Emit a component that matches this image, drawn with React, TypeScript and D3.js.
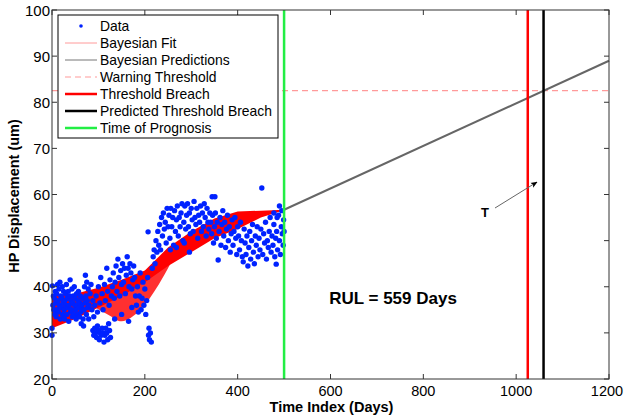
import React from 'react';
import * as d3 from 'd3';

// observed HP displacement, [day, um]
const observations: [number, number][] = [
  [0, 29.5], [0, 31], [1, 40.2], [2, 36], [3, 38], [4, 35], [5, 37.5], [6, 34], [7, 39], [8, 36.5], [9, 33.5], [10, 38.5],
  [11, 35], [12, 40.5], [13, 37], [14, 34.5], [15, 39.5], [16, 36], [17, 41], [18, 33], [19, 38], [20, 35.5], [21, 37.5],
  [22, 40], [23, 34], [24, 36.5], [25, 39], [26, 35], [27, 33], [28, 37], [29, 38.5], [30, 36],
  [31, 40.5], [32, 34], [33, 37.5], [34, 35.5], [35, 39], [36, 32.5], [37, 36], [38, 38], [39, 41.5], [40, 34.5], [41, 37],
  [42, 35], [43, 39.5], [44, 33.5], [45, 36.5], [46, 38], [47, 34], [48, 40], [49, 36], [50, 37.5], [51, 35], [52, 33],
  [53, 38.5], [54, 36], [55, 34], [56, 37], [57, 39], [58, 35.5], [59, 33.5], [60, 36.5],
  [61, 38], [62, 34.5], [63, 32], [64, 36], [65, 35], [66, 37.5], [67, 33], [68, 31.5], [69, 35], [70, 40], [71, 36.5],
  [72, 42.5], [73, 38], [74, 34], [75, 41], [76, 37], [77, 35.5], [78, 39.5], [79, 33], [80, 36], [82, 38.5], [84, 40.5],
  [86, 35], [88, 37], [90, 33.5],
  [88, 30.5], [90, 29.5], [92, 31], [94, 30], [96, 29], [98, 31.5], [100, 30.5], [102, 28.5], [104, 30], [106, 29.5],
  [108, 31], [110, 30], [112, 28], [114, 29.5], [116, 31], [118, 30], [120, 28.5], [122, 32], [124, 30.5], [126, 29],
  [92, 36], [95, 38], [98, 34.5], [100, 40], [103, 36.5], [105, 42], [108, 38.5], [110, 35], [113, 40.5], [115, 37],
  [118, 44], [120, 39], [123, 36], [125, 41.5], [128, 38],
  [130, 40], [132, 43], [134, 37.5], [136, 41], [138, 44.5], [140, 39], [142, 46], [144, 42], [146, 38], [148, 43.5],
  [150, 40.5], [152, 45], [154, 41], [156, 44], [158, 38.5], [160, 42.5], [162, 46.5], [164, 44], [166, 40], [168, 45],
  [170, 43], [172, 39.5], [174, 41.5], [176, 44.5], [178, 42], [180, 38],
  [135, 33], [150, 34], [165, 32.5], [172, 35.5],
  [182, 36], [184, 40], [186, 34.5], [188, 38], [190, 43], [192, 35], [194, 37.5], [196, 41], [198, 36], [200, 39.5],
  [202, 34], [204, 37], [206, 42], [208, 29.5], [210, 28.5], [212, 30], [214, 28], [209, 31], [207, 51.9],
  [216, 44], [218, 46.5], [220, 48], [222, 45], [224, 50], [226, 47.5], [228, 52], [230, 49], [232, 53.5], [234, 48],
  [236, 55], [238, 51], [240, 56], [242, 52.5], [244, 54], [246, 49.5], [248, 57], [250, 53],
  [252, 55.5], [254, 50.5], [256, 57], [258, 53], [260, 55], [262, 49], [264, 56.5], [266, 52], [268, 54.5], [270, 57.5],
  [272, 51], [274, 55], [276, 53], [278, 56], [280, 58], [282, 50], [284, 54], [286, 57.5], [288, 52.5], [290, 55.5],
  [292, 58], [294, 53], [296, 56], [298, 51.5], [300, 57], [302, 54.5], [304, 52], [306, 58.5], [308, 55], [310, 53.5],
  [312, 57], [314, 50.5], [316, 55.5], [318, 54], [320, 57.5], [322, 52], [324, 56], [326, 53], [328, 58], [330, 55],
  [332, 51], [334, 57], [336, 54], [338, 52.5], [340, 56],
  [255, 48], [268, 48.5], [285, 49.5], [296, 47.5], [345, 59.5], [351, 59.5],
  [342, 54], [344, 51.5], [346, 55.5], [348, 49.5], [350, 53], [352, 56], [354, 50.5], [356, 54], [358, 45.8], [360, 52],
  [362, 55], [364, 49], [366, 53.5], [368, 56.5], [370, 51], [372, 54], [374, 48.5], [376, 52.5], [378, 55.5], [380, 50],
  [382, 53], [384, 47.5], [386, 51.5], [388, 54.5], [390, 49], [392, 52], [394, 55], [396, 50.5], [398, 47], [400, 53],
  [402, 51], [404, 48], [406, 54], [408, 50], [410, 46.5], [412, 45.4], [414, 52.5], [416, 49.5], [418, 47], [420, 51],
  [422, 44.5], [424, 48.5], [426, 52], [428, 46], [430, 50], [432, 53.5], [434, 47.5], [436, 45], [438, 51], [440, 49],
  [442, 53], [444, 46.5], [446, 50.5], [448, 48], [450, 52.5], [452, 61.4], [454, 47], [456, 51.5], [458, 49.5], [460, 54],
  [462, 46], [464, 50], [466, 48.5], [468, 52], [470, 55], [472, 47.5], [474, 51], [476, 49], [478, 53.5], [480, 46.5],
  [482, 50.5], [483, 44.9], [484, 52], [486, 48], [488, 55.5], [490, 50], [492, 47], [494, 53], [496, 51.5], [498, 49],
  [499, 54.5], [500, 52], [495, 56.5], [490, 57.5], [485, 55], [478, 56]
];

// envelope of the bayesian fit curves
const fitDays = [0, 50, 100, 150, 200, 250, 300, 350, 400, 450, 500];
const fitUpper = [38, 38.5, 39.8, 41.5, 43.5, 48.5, 52, 54.8, 56.3, 56.5, 56.7];
const fitLower = [31, 33, 35.5, 38, 41, 44.5, 47.5, 50.5, 52.5, 55, 56.6];
// lower lobe of the fit ensemble
const lobeDays = [85, 120, 150, 190, 230, 255];
const lobeUpper = [36, 37, 38.5, 40.5, 43.5, 45];
const lobeLower = [36, 34, 32.5, 35, 40.5, 45];

// prediction from time of prognosis
const predDays = [500, 1200];
const predValues = [56.7, 89];

const warningLevel = 82.5;
const prognosisDay = 500;
const breachDay = 1025;
const predictedBreachDay = 1059;

const xTicks = [0, 200, 400, 600, 800, 1000, 1200];
const yTicks = [20, 30, 40, 50, 60, 70, 80, 90, 100];

const legendItems = [
  { label: 'Data', kind: 'dot', color: '#0022ff', width: 0, dash: '' },
  { label: 'Bayesian Fit', kind: 'line', color: '#ff9a9a', width: 1, dash: '' },
  { label: 'Bayesian Predictions', kind: 'line', color: '#777777', width: 1, dash: '' },
  { label: 'Warning Threshold', kind: 'line', color: '#ff9a9a', width: 1.2, dash: '6,4' },
  { label: 'Threshold Breach', kind: 'line', color: '#ff0000', width: 2.5, dash: '' },
  { label: 'Predicted Threshold Breach', kind: 'line', color: '#000000', width: 2.5, dash: '' },
  { label: 'Time of Prognosis', kind: 'line', color: '#22ee44', width: 2.5, dash: '' }
];

const W = 624;
const H = 417;
const m = { left: 52, right: 609, top: 10, bottom: 379 };
const font = '"Liberation Sans", Arial, Helvetica, sans-serif';

export default function App() {
  const x = d3.scaleLinear().domain([0, 1200]).range([m.left, m.right]);
  const y = d3.scaleLinear().domain([20, 100]).range([m.bottom, m.top]);

  const band = d3.area<number>()
    .x((_, i) => x(fitDays[i]))
    .y0((_, i) => y(fitLower[i]))
    .y1((_, i) => y(fitUpper[i]));
  const lobe = d3.area<number>()
    .x((_, i) => x(lobeDays[i]))
    .y0((_, i) => y(lobeLower[i]))
    .y1((_, i) => y(lobeUpper[i]))
    .curve(d3.curveMonotoneX);
  const predLine = d3.line<number>()
    .x((_, i) => x(predDays[i]))
    .y((d) => y(d));

  const tickLen = 5;

  return (
    <svg width={W} height={H} style={{ position: 'absolute', left: 0, top: 0, background: '#fff' }} fontFamily={font}>
      <rect x={0} y={0} width={W} height={H} fill="#fff" />

      {/* fit band */}
      <path d={lobe(lobeDays) || ''} fill="#ff3030" />
      <path d={band(fitDays) || ''} fill="#ff0000" />

      {/* data */}
      {observations.map(([d, v], i) => (
        <circle key={i} cx={x(d)} cy={y(v)} r={2.7} fill="#0022ff" />
      ))}

      {/* warning threshold */}
      <line x1={m.left} x2={m.right} y1={y(warningLevel)} y2={y(warningLevel)}
        stroke="#ff9a9a" strokeWidth={1.2} strokeDasharray="6,4" />

      {/* predictions */}
      <path d={predLine(predValues) || ''} fill="none" stroke="#666" strokeWidth={2} />

      {/* vertical markers */}
      <line x1={x(prognosisDay)} x2={x(prognosisDay)} y1={m.top} y2={m.bottom} stroke="#22ee44" strokeWidth={2.5} />
      <line x1={x(breachDay)} x2={x(breachDay)} y1={m.top} y2={m.bottom} stroke="#ff0000" strokeWidth={2.5} />
      <line x1={x(predictedBreachDay)} x2={x(predictedBreachDay)} y1={m.top} y2={m.bottom} stroke="#000" strokeWidth={2.5} />

      {/* annotations */}
      <defs>
        <marker id="arr" viewBox="0 0 10 10" refX={9} refY={5} markerWidth={7} markerHeight={7} orient="auto">
          <path d="M0,1 L10,5 L0,9 L2.5,5 Z" fill="#000" />
        </marker>
      </defs>
      <line x1={495} y1={208} x2={537} y2={182} stroke="#666" strokeWidth={1} markerEnd="url(#arr)" />
      <text x={485} y={217} fontSize={13} fontWeight="bold" textAnchor="middle">T</text>
      <text x={393} y={304} fontSize={17} fontWeight="bold" textAnchor="middle">RUL = 559 Days</text>

      {/* axes box */}
      <rect x={m.left} y={m.top} width={m.right - m.left} height={m.bottom - m.top} fill="none" stroke="#333" strokeWidth={1} />
      {xTicks.map((t) => (
        <g key={'x' + t}>
          <line x1={x(t)} x2={x(t)} y1={m.bottom} y2={m.bottom - tickLen} stroke="#333" />
          <line x1={x(t)} x2={x(t)} y1={m.top} y2={m.top + tickLen} stroke="#333" />
          <text x={Math.min(x(t), W - 17)} y={m.bottom + 17} fontSize={14.5} textAnchor="middle">{t}</text>
        </g>
      ))}
      {yTicks.map((t) => (
        <g key={'y' + t}>
          <line x1={m.left} x2={m.left + tickLen} y1={y(t)} y2={y(t)} stroke="#333" />
          <line x1={m.right} x2={m.right - tickLen} y1={y(t)} y2={y(t)} stroke="#333" />
          <text x={m.left - 2} y={y(t) + 5.5} fontSize={15} textAnchor="end">{t}</text>
        </g>
      ))}
      <text x={(m.left + m.right) / 2 + 1} y={412} fontSize={14.5} fontWeight="bold" textAnchor="middle">Time Index (Days)</text>
      <text transform={`translate(19,196) rotate(-90)`} fontSize={14.5} fontWeight="bold" textAnchor="middle">
        HP Displacement (um)
      </text>

      {/* legend */}
      <rect x={58} y={15} width={220} height={123} fill="#fff" stroke="#000" strokeWidth={1} />
      {legendItems.map((it, i) => {
        const cy = 26 + i * 17;
        return (
          <g key={it.label}>
            {it.kind === 'dot'
              ? <circle cx={81} cy={cy} r={1.8} fill={it.color} />
              : <line x1={65} x2={97} y1={cy} y2={cy} stroke={it.color} strokeWidth={it.width} strokeDasharray={it.dash || undefined} />}
            <text x={100} y={cy + 5} fontSize={13.9}>{it.label}</text>
          </g>
        );
      })}
    </svg>
  );
}
